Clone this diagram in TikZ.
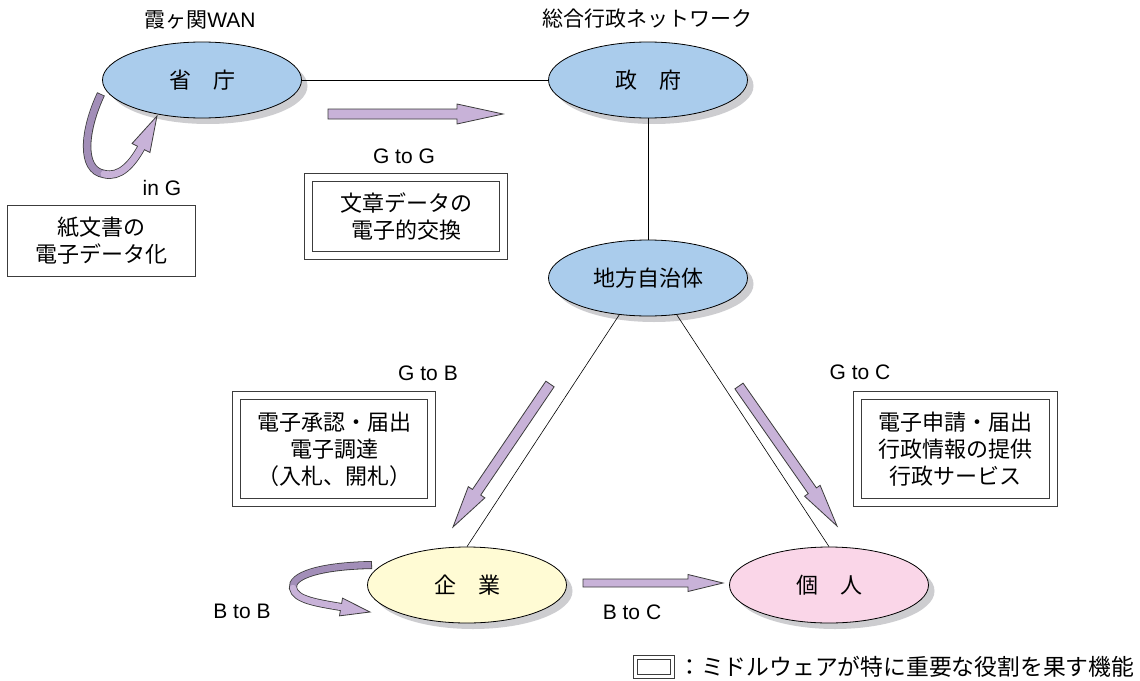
\documentclass[tikz,border=0pt]{standalone}
\usepackage{fontspec}
\setmainfont{Liberation Sans}
\newfontfamily\jp{Noto Sans CJK JP}
\usetikzlibrary{shapes.geometric,shadows,calc}
\definecolor{govblue}{RGB}{170,204,236}
\definecolor{bizyellow}{RGB}{255,251,212}
\definecolor{perspink}{RGB}{250,214,232}
\definecolor{arrfill}{RGB}{200,178,216}
\definecolor{arrdark}{RGB}{162,142,184}
\definecolor{framec}{RGB}{60,60,60}
\definecolor{shadowgray}{RGB}{205,205,208}
\tikzset{
  x=1pt, y=-1pt,
  ent/.style={ellipse, draw=black, line width=0.8pt, minimum width=199pt,
    minimum height=76pt, inner sep=0pt, font=\jp\fontsize{22}{26}\selectfont,
    drop shadow={shadow xshift=6pt, shadow yshift=-6pt, fill=shadowgray, opacity=1}},
  link/.style={draw=black, line width=0.6pt},
  dbox/.style={rectangle, draw=framec, line width=0.9pt, double=white,
    double distance=7pt, inner sep=0pt, align=center,
    font=\jp\fontsize{22}{27}\selectfont},
  sbox/.style={rectangle, draw=framec, line width=0.9pt, inner sep=0pt,
    align=center, font=\jp\fontsize{22}{27}\selectfont},
  lbl/.style={inner sep=0pt, font=\fontsize{21}{24}\selectfont},
  ttl/.style={inner sep=0pt, font=\jp\fontsize{21}{24}\selectfont},
  fatarrow/.style={fill=arrfill, draw=framec, line width=0.8pt, line join=miter},
}
\newcommand\fatarr[5]{%
  \coordinate (fatT) at #1;
  \coordinate (fatP) at #2;
  \coordinate (fatB) at ($(fatP)!#5!(fatT)$);
  \filldraw[fatarrow] ($(fatT)!#3!90:(fatP)$) -- ($(fatB)!#3!90:(fatP)$)
    -- ($(fatB)!#4!90:(fatP)$) -- (fatP) -- ($(fatB)!#4!-90:(fatP)$)
    -- ($(fatB)!#3!-90:(fatP)$) -- ($(fatT)!#3!-90:(fatP)$) -- cycle;
}
\begin{document}
\begin{tikzpicture}
\useasboundingbox (0,0) rectangle (1140,680);
\fill[white] (0,0) rectangle (1140,680);

% titles
\node[ttl] (t1) at (200,20) {霞ヶ関\fontspec{Liberation Sans}WAN};
\node[ttl] (t2) at (647,19) {総合行政ネットワーク};

% entities
\node[ent, fill=govblue] (shocho) at (202,80) {省　庁};
\node[ent, fill=govblue] (seifu) at (648,80) {政　府};
\node[ent, fill=govblue] (chiho) at (648,278) {地方自治体};
\node[ent, fill=bizyellow] (kigyo) at (467,585) {企　業};
\node[ent, fill=perspink] (kojin) at (829,585) {個　人};

% connectors
\draw[link] (shocho.east) -- (seifu.west);
\draw[link] (seifu.south) -- (chiho.north);
\draw[link] (chiho.232) -- (kigyo.north);
\draw[link] (chiho.308) -- (kojin.north);

% boxes
\node[sbox, minimum width=188pt, minimum height=71pt] (paper) at (101.5,241) {紙文書の\\電子データ化};
\node[dbox, minimum width=195pt, minimum height=78pt] (gg) at (406,216.5) {文章データの\\電子的交換};
\node[dbox, minimum width=195pt, minimum height=107pt] (gb) at (334,449) {電子承認・届出\\電子調達\\（入札、開札）};
\node[dbox, minimum width=196pt, minimum height=107pt] (gc) at (955.5,449) {電子申請・届出\\行政情報の提供\\行政サービス};

% labels
\node[lbl] (lgg) at (404,156) {G to G};
\node[lbl] (ling) at (162,188) {in G};
\node[lbl] (lgb) at (428,373) {G to B};
\node[lbl] (lgc) at (860,372) {G to C};
\node[lbl] (lbb) at (242,611) {B to B};
\node[lbl] (lbc) at (632,612) {B to C};

% straight fat arrows
\fatarr{(328,114)}{(503,114)}{5pt}{10pt}{46pt}
\fatarr{(550,384)}{(453,527)}{5pt}{10pt}{42pt}
\fatarr{(739,386)}{(837,526)}{5pt}{9.5pt}{43pt}
\fatarr{(583,583)}{(723,583)}{4pt}{8.5pt}{35pt}

% in G curved arrow
\coordinate (igT) at (101,94);
\coordinate (igM) at (104,174);
\coordinate (igB) at (141,148);
\coordinate (igP) at (157,116);
\draw[line width=8.4pt, framec] (igT) .. controls (84,130) and (80,170) .. (igM)
   .. controls (120,178) and (132,164) .. (igB);
\filldraw[fatarrow] ($(igB)!10pt!90:(igP)$) -- (igP) -- ($(igB)!10pt!-90:(igP)$) -- cycle;
\draw[line width=6.8pt, arrdark, shorten <=0.8pt] (igT) .. controls (84,130) and (80,170) .. (igM);
\draw[line width=6.8pt, arrfill, line cap=round] (igM) .. controls (120,178) and (132,164) .. (igB);

% B to B curved arrow
\coordinate (bbT) at (372,565);
\coordinate (bbM) at (293,588);
\coordinate (bbB) at (341,607);
\coordinate (bbP) at (370,612);
\draw[line width=8pt, framec] (bbT) .. controls (318,566) and (291,576) .. (bbM)
   .. controls (295,600) and (318,603) .. (bbB);
\filldraw[fatarrow] ($(bbB)!9pt!90:(bbP)$) -- (bbP) -- ($(bbB)!9pt!-90:(bbP)$) -- cycle;
\draw[line width=6.4pt, arrdark, shorten <=0.8pt] (bbT) .. controls (318,566) and (291,576) .. (bbM);
\draw[line width=6.4pt, arrfill, line cap=round] (bbM) .. controls (295,600) and (318,603) .. (bbB);

% legend
\node[dbox, double distance=3pt, line width=0.8pt, minimum width=37pt, minimum height=19pt] (leg) at (654,667) {};
\node[ttl, anchor=west] (legt) at (678,667) {\fontsize{22.8}{24}\selectfont ：ミドルウェアが特に重要な役割を果す機能};
\end{tikzpicture}
\end{document}
